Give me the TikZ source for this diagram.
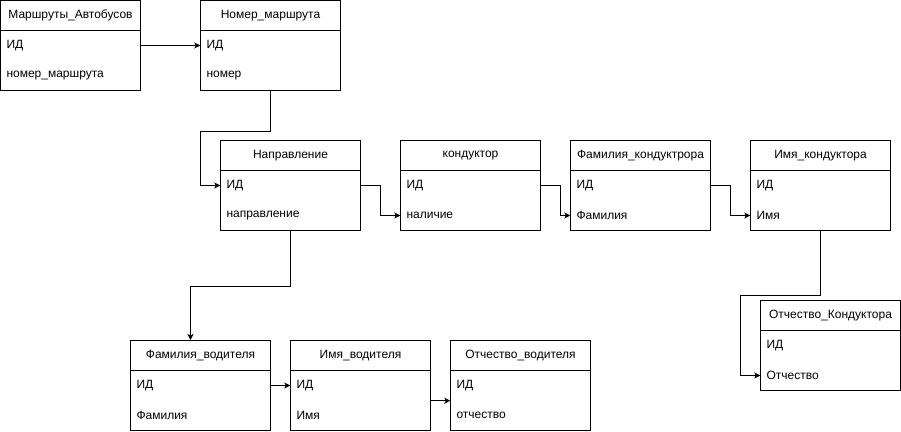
\documentclass[tikz,border=0pt]{standalone}
\usepackage{fontspec}
\setmainfont{Liberation Sans}
\usetikzlibrary{arrows.meta}

\tikzset{
  tablebox/.style={draw, line width=1pt, minimum width=140pt, minimum height=90pt, inner sep=0pt},
  headcell/.style={draw, line width=1pt, minimum width=140pt, minimum height=30pt, inner sep=0pt},
  fieldcell/.style={minimum height=30pt, text width=128pt, inner xsep=6pt, inner ysep=0pt, align=left},
  link/.style={line width=1pt, -{Stealth[length=6pt,width=6pt,inset=1.5pt]}},
}

% \ertable{name}{left x}{top y}{title}{first field}{second field}
\newcommand\ertable[6]{%
  \node[tablebox] (#1) at ({#2+70},{#3+45}) {};
  \node[headcell] (#1-h) at ({#2+70},{#3+15}) {#4};
  \node[fieldcell] (#1-a) at ({#2+70},{#3+45}) {#5};
  \node[fieldcell] (#1-b) at ({#2+70},{#3+75}) {#6};
}

\begin{document}
\begin{tikzpicture}[x=1pt, y=-1pt, font=\fontsize{12}{14}\selectfont]
  \useasboundingbox (-0.5,-0.5) rectangle (900.5,430.5);

  % tables
  \ertable{routes}{0}{0}{Маршруты\_Автобусов}{ИД}{номер\_маршрута}
  \ertable{num}{200}{0}{Номер\_маршрута}{ИД}{номер}
  \ertable{dir}{220}{140}{Направление}{ИД}{направление}
  \ertable{cond}{400}{140}{кондуктор}{ИД}{наличие}
  \ertable{csur}{570}{140}{Фамилия\_кондуктрора}{ИД}{Фамилия}
  \ertable{cname}{750}{140}{Имя\_кондуктора}{ИД}{Имя}
  \ertable{cpat}{760}{300}{Отчество\_Кондуктора}{ИД}{Отчество}
  \ertable{dsur}{130}{340}{Фамилия\_водителя}{ИД}{Фамилия}
  \ertable{dname}{290}{340}{Имя\_водителя}{ИД}{Имя}
  \ertable{dpat}{450}{340}{Отчество\_водителя}{ИД}{отчество}

  % links
  \draw[link] (routes-a.east) -- (num-a.west);
  \draw[link] (num.south) -- ++(0,40) -| ([xshift=-20pt]dir-a.west) -- (dir-a.west);
  \draw[link] (dir-a.east) -- ++(20,0) |- (cond-b.west);
  \draw[link] (cond-a.east) -- ++(20,0) |- (csur-b.west);
  \draw[link] (csur-a.east) -- ++(20,0) |- (cname-b.west);
  \draw[link] (cname.south) -- ++(0,64) -| ([xshift=-20pt]cpat-b.west) -- (cpat-b.west);
  \draw[link] (dir.south) -- ++(0,55) -| ([xshift=-10pt]dsur.north);
  \draw[link] (dsur-a.east) -- (dname-a.west);
  \draw[link] (dname-a.south east) -- (dpat-a.south west);
\end{tikzpicture}
\end{document}
